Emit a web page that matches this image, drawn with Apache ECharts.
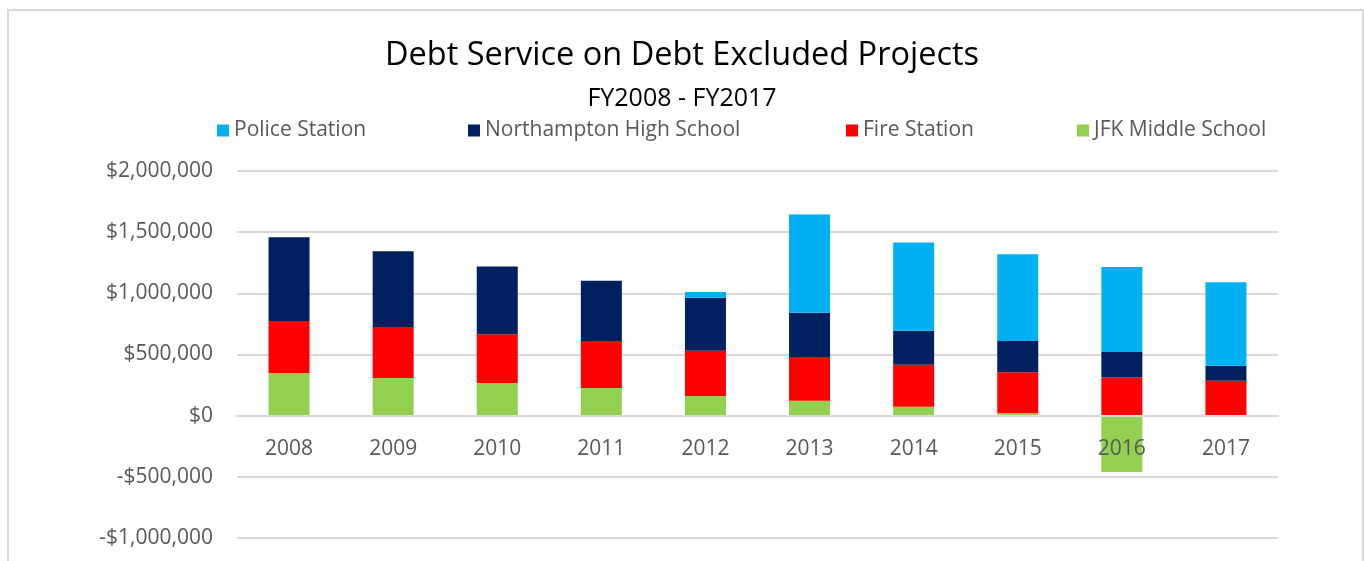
<!DOCTYPE html>
<html>
<head>
<meta charset="utf-8">
<script src="https://cdn.jsdelivr.net/npm/echarts@6/dist/echarts.min.js"></script>
<style>
html,body{margin:0;padding:0;background:#fff;}
#chart{width:1364px;height:561px;}
</style>
</head>
<body>
<div id="chart"></div>
<script>
var categories = ['2008','2009','2010','2011','2012','2013','2014','2015','2016','2017'];
var policeStation = [0, 0, 0, 0, 47000, 803000, 721000, 710000, 696000, 683000];
var northamptonHigh = [686000, 620000, 555000, 492000, 432000, 362000, 278000, 256000, 207000, 122000];
var fireStation = [425000, 416000, 398000, 384000, 370000, 357000, 343000, 332000, 313000, 286000];
var jfkMiddle = [348000, 308000, 267000, 226000, 161000, 122000, 73000, 22000, -460000, 0];
var yTicks = [-1000000, -500000, 0, 500000, 1000000, 1500000, 2000000];

var FONT = '"Open Sans", "Noto Sans", sans-serif';

function fmt(v){
  var s = Math.abs(v).toString().replace(/\B(?=(\d{3})+(?!\d))/g, ',');
  return (v < 0 ? '-$' : '$') + s;
}

var Y_MIN = yTicks[0], Y_MAX = yTicks[yTicks.length - 1];
var GRID_TOP = 171, GRID_BOTTOM = 23, H = 561;
// shift category axis (line + labels) up so it sits at the zero line
var plotH = H - GRID_TOP - GRID_BOTTOM;
var zeroOffset = -plotH * (0 - Y_MIN) / (Y_MAX - Y_MIN);

var chart = echarts.init(document.getElementById('chart'), null, {renderer:'canvas'});
var legendText = {color:'#595959', fontSize:21, fontFamily:FONT};
function leg(name, left){
  return {data:[name], left:left, top:120, itemWidth:12, itemHeight:12, icon:'rect',
    itemGap:0, textStyle:legendText, selectedMode:false, padding:0};
}
chart.setOption({
  animation:false,
  backgroundColor:'#fff',
  graphic:[{type:'rect', shape:{x:8, y:10, width:1355, height:600},
    style:{fill:'none', stroke:'#d9d9d9', lineWidth:2}, silent:true, z:-1}],
  title:[
    {text:'Debt Service on Debt Excluded Projects', left:'center', top:34,
      textStyle:{fontFamily:FONT, fontSize:32.5, fontWeight:'normal', color:'#000'}},
    {text:'FY2008 - FY2017', left:'center', top:81,
      textStyle:{fontFamily:FONT, fontSize:25, fontWeight:'normal', color:'#000'}}
  ],
  legend:[
    leg('Police Station', 217),
    leg('Northampton High School', 468),
    leg('Fire Station', 846),
    leg('JFK Middle School', 1077)
  ],
  grid:{left:237, right:86, top:GRID_TOP, bottom:GRID_BOTTOM, containLabel:false, outerBoundsMode:'none'},
  xAxis:{
    type:'category', data:categories, z:5, position:'bottom', offset:zeroOffset,
    axisLine:{show:true, onZero:false, lineStyle:{color:'#d9d9d9', width:2}},
    axisTick:{show:false},
    axisLabel:{color:'#595959', fontSize:21, fontFamily:FONT, margin:23}
  },
  yAxis:{
    type:'value', min:Y_MIN, max:Y_MAX, interval:500000,
    axisLine:{show:false}, axisTick:{show:false},
    splitLine:{lineStyle:{color:'#d9d9d9', width:2}},
    axisLabel:{color:'#595959', fontSize:21, fontFamily:FONT, margin:24,
      formatter:function(v){ return fmt(v); }}
  },
  series:[
    {name:'JFK Middle School', type:'bar', stack:'total', data:jfkMiddle, barWidth:41, itemStyle:{color:'#92d050'}},
    {name:'Fire Station', type:'bar', stack:'total', data:fireStation, barWidth:41, itemStyle:{color:'#ff0000'}},
    {name:'Northampton High School', type:'bar', stack:'total', data:northamptonHigh, barWidth:41, itemStyle:{color:'#002060'}},
    {name:'Police Station', type:'bar', stack:'total', data:policeStation, barWidth:41, itemStyle:{color:'#00b0f0'}}
  ]
});
</script>
</body>
</html>
